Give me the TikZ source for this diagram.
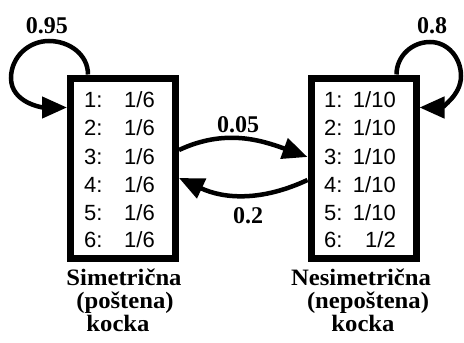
\documentclass[tikz,border=0pt]{standalone}
\usepackage{fontspec}
\setmainfont{Liberation Serif}
\newfontfamily\boxfont{Liberation Sans}
\usetikzlibrary{arrows.meta,calc}
\begin{document}
\begin{tikzpicture}[x=1pt,y=-1pt,
  diebox/.style={draw,line width=7pt,minimum width=105pt,minimum height=180pt,inner sep=0pt},
  entry/.style={font=\boxfont\fontsize{22}{22}\selectfont,inner sep=0pt,anchor=base west},
  entryr/.style={font=\boxfont\fontsize{22}{22}\selectfont,inner sep=0pt,anchor=base east},
  prob/.style={font=\bfseries\fontsize{24}{24}\selectfont,inner sep=0pt,anchor=base},
  title/.style={font=\bfseries\fontsize{23.5}{23.5}\selectfont,inner sep=0pt,anchor=base,xscale=1.05,transform shape},
  trans/.style={line width=4.5pt,-{Triangle[length=25pt,width=21pt]}}]
\useasboundingbox (0,0) rectangle (464,343);
\node[diebox] (L) at (123,168) {};
\node[diebox] (R) at (363.5,168) {};
% left entries
\foreach \i/\y in {1/107,2/135,3/164,4/192,5/220,6/247}{
  \node[entry] (l\i) at (84,\y) {\i:};
  \node[entry] (lp\i) at (124,\y) {1/6};
}
% right entries
\foreach \i/\y in {1/107,2/135,3/164,4/192,5/220}{
  \node[entry] (r\i) at (324,\y) {\i:};
  \node[entryr] (rp\i) at (396,\y) {1/10};
}
\node[entry] (r6) at (324,247) {6:};
\node[entryr] (rp6) at (396,247) {1/2};
% loops
\coordinate (ls) at ($(L.north west)+(21,0)$);
\coordinate (le) at ($(L.north west)+(0,33)$);
\coordinate (rs) at ($(R.north east)+(-23,0)$);
\coordinate (re) at ($(R.north east)+(0,33)$);
\draw[trans] (ls) to[out=90,in=0] (49,41) to[out=180,in=90] (11,78) to[out=-90,in=180] (le);
\draw[trans] (rs) to[out=90,in=180] (430,42) to[out=0,in=90] (461,76) to[out=-90,in=0] (re);
% transitions
\draw[trans] ($(L.east)+(0,-18)$) to[out=25,in=160] ($(R.west)+(0,-11)$);
\draw[trans] ($(R.west)+(0,12)$) to[out=-155,in=-25] ($(L.east)+(0,10)$);
% probabilities
\node[prob] (p1) at (47,33) {0.95};
\node[prob] (p2) at (432,33) {0.8};
\node[prob] (p3) at (238,132) {0.05};
\node[prob] (p4) at (248,223) {0.2};
% titles
\node[title] (t1) at (124,285) {Simetrična};
\node[title] (t2) at (125,308) {(poštena)};
\node[title] (t3) at (118,331) {kocka};
\node[title] (u1) at (361,285) {Nesimetrična};
\node[title] (u2) at (368,308) {(nepoštena)};
\node[title] (u3) at (363,331) {kocka};
\end{tikzpicture}
\end{document}
